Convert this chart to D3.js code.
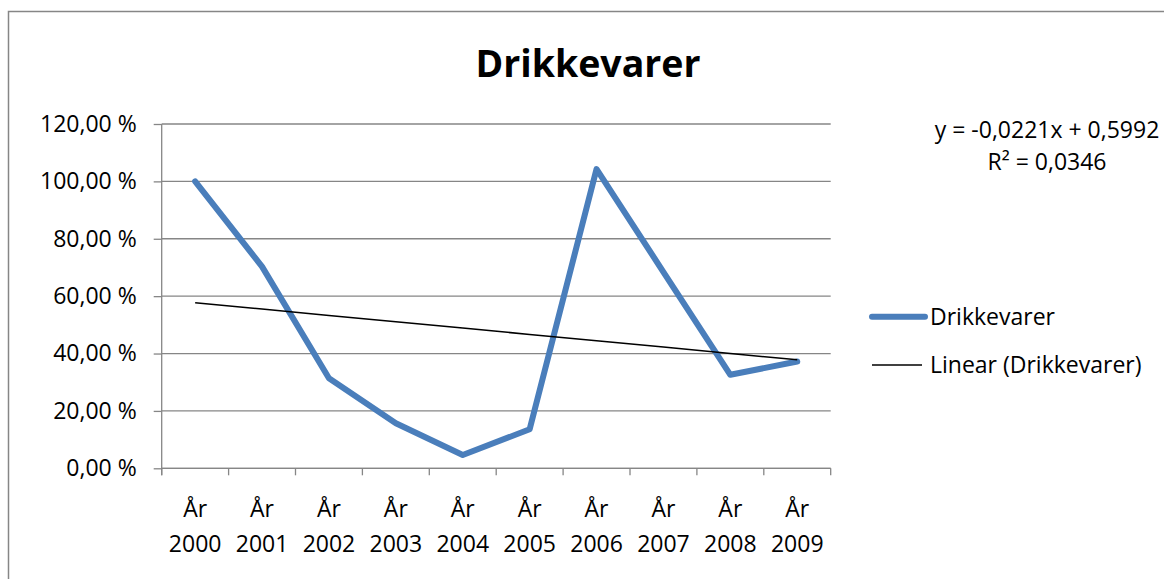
<!DOCTYPE html>
<html lang="no">
<head>
    <meta charset="UTF-8">
    <title>Drikkevarer</title>
    <script src="https://d3js.org/d3.v7.min.js"></script>
    <style>
        body { margin: 0; background: #fff; }
        text { font-family: "Open Sans", sans-serif; fill: #000; }
    </style>
</head>
<body>
<script>
    // data
    var years = ["2000", "2001", "2002", "2003", "2004", "2005", "2006", "2007", "2008", "2009"];
    var values = [1.00, 0.703, 0.314, 0.157, 0.0465, 0.136, 1.043, 0.684, 0.326, 0.372];
    var yTicks = [0, 0.2, 0.4, 0.6, 0.8, 1.0, 1.2];
    var seriesName = "Drikkevarer";
    var trendName = "Linear (Drikkevarer)";
    // trendline as printed on the chart
    var trendSlope = -0.0221, trendIntercept = 0.5992;
    var eqLines = ["y = -0,0221x + 0,5992", "R² = 0,0346"];

    var width = 1164, height = 579;
    // plot area (window.top is reserved, so no "top" here)
    var plotLeft = 161.7, plotRight = 830.7, plotTop = 124, plotBottom = 468.3;

    var svg = d3.select("body").append("svg")
        .attr("width", width)
        .attr("height", height);

    // chart frame
    svg.append("rect")
        .attr("x", 8.5).attr("y", 11.5)
        .attr("width", 1300).attr("height", 800)
        .attr("fill", "none")
        .attr("stroke", "#868686")
        .attr("stroke-width", 1.5);

    var x = d3.scaleBand().domain(years).range([plotLeft, plotRight]);
    var y = d3.scaleLinear().domain([0, 1.2]).range([plotBottom, plotTop]);

    var pct = function(v) { return (v * 100).toFixed(2).replace(".", ",") + " %"; };

    // gridlines
    svg.append("g").selectAll("line")
        .data(yTicks)
        .enter().append("line")
        .attr("x1", plotLeft).attr("x2", plotRight)
        .attr("y1", function(d) { return y(d); })
        .attr("y2", function(d) { return y(d); })
        .attr("stroke", "#868686")
        .attr("stroke-width", 1.3);

    // y axis
    var yAxis = svg.append("g")
        .attr("transform", "translate(" + plotLeft + ",0)")
        .call(d3.axisLeft(y).tickValues(yTicks).tickFormat(pct).tickSize(8).tickPadding(17));
    yAxis.select(".domain").remove();
    yAxis.append("line")
        .attr("x1", 0).attr("x2", 0)
        .attr("y1", plotTop).attr("y2", plotBottom + 7)
        .attr("stroke", "#868686").attr("stroke-width", 1.3);
    yAxis.selectAll(".tick line").attr("stroke", "#868686").attr("stroke-width", 1.3);
    yAxis.selectAll(".tick text")
        .style("font-family", "'Open Sans', sans-serif")
        .style("font-size", "23px")
        .attr("fill", "#000");

    // x axis
    var xAxis = svg.append("g");
    xAxis.append("line")
        .attr("x1", plotLeft).attr("x2", plotRight)
        .attr("y1", plotBottom).attr("y2", plotBottom)
        .attr("stroke", "#868686").attr("stroke-width", 1.3);
    var edges = years.map(function(d) { return x(d); }).concat([plotRight]);
    xAxis.selectAll(".xtick")
        .data(edges)
        .enter().append("line")
        .attr("class", "xtick")
        .attr("x1", function(d) { return d; })
        .attr("x2", function(d) { return d; })
        .attr("y1", plotBottom).attr("y2", plotBottom + 7)
        .attr("stroke", "#868686").attr("stroke-width", 1.3);
    var xl = xAxis.selectAll(".xlabel")
        .data(years)
        .enter().append("text")
        .attr("class", "xlabel")
        .attr("text-anchor", "middle")
        .style("font-size", "23px");
    xl.append("tspan")
        .attr("x", function(d) { return x(d) + x.bandwidth() / 2; })
        .attr("y", 517)
        .text("År");
    xl.append("tspan")
        .attr("x", function(d) { return x(d) + x.bandwidth() / 2; })
        .attr("y", 551.5)
        .text(function(d) { return d; });

    // series line
    var line = d3.line()
        .x(function(d, i) { return x(years[i]) + x.bandwidth() / 2; })
        .y(function(d) { return y(d); });
    svg.append("path")
        .datum(values)
        .attr("d", line)
        .attr("fill", "none")
        .attr("stroke", "#4a7ebb")
        .attr("stroke-width", 6)
        .attr("stroke-linejoin", "round")
        .attr("stroke-linecap", "round");

    // linear trendline
    var trend = years.map(function(d, i) { return trendIntercept + trendSlope * (i + 1); });
    svg.append("path")
        .datum(trend)
        .attr("d", line)
        .attr("fill", "none")
        .attr("stroke", "#000")
        .attr("stroke-width", 1.5);

    // title
    svg.append("text")
        .attr("x", 588).attr("y", 77)
        .attr("text-anchor", "middle")
        .style("font-size", "37.5px")
        .style("font-weight", "bold")
        .text("Drikkevarer");

    // trendline equation
    svg.append("g").selectAll("text")
        .data(eqLines)
        .enter().append("text")
        .attr("x", 1047)
        .attr("y", function(d, i) { return 138 + i * 32; })
        .attr("text-anchor", "middle")
        .style("font-size", "23px")
        .text(function(d) { return d; });

    // legend
    var legend = svg.append("g");
    var items = [
        { name: seriesName, color: "#4a7ebb", w: 6, x2: 925, y: 316.7 },
        { name: trendName, color: "#000", w: 1.5, x2: 922, y: 365 }
    ];
    var li = legend.selectAll("g").data(items).enter().append("g");
    li.append("line")
        .attr("x1", 872).attr("x2", function(d) { return d.x2; })
        .attr("y1", function(d) { return d.y; })
        .attr("y2", function(d) { return d.y; })
        .attr("stroke", function(d) { return d.color; })
        .attr("stroke-width", function(d) { return d.w; })
        .attr("stroke-linecap", function(d) { return d.w > 2 ? "round" : "butt"; });
    li.append("text")
        .attr("x", 930)
        .attr("y", function(d) { return d.y; })
        .attr("dy", "0.35em")
        .style("font-size", "23px")
        .text(function(d) { return d.name; });
</script>
</body>
</html>
